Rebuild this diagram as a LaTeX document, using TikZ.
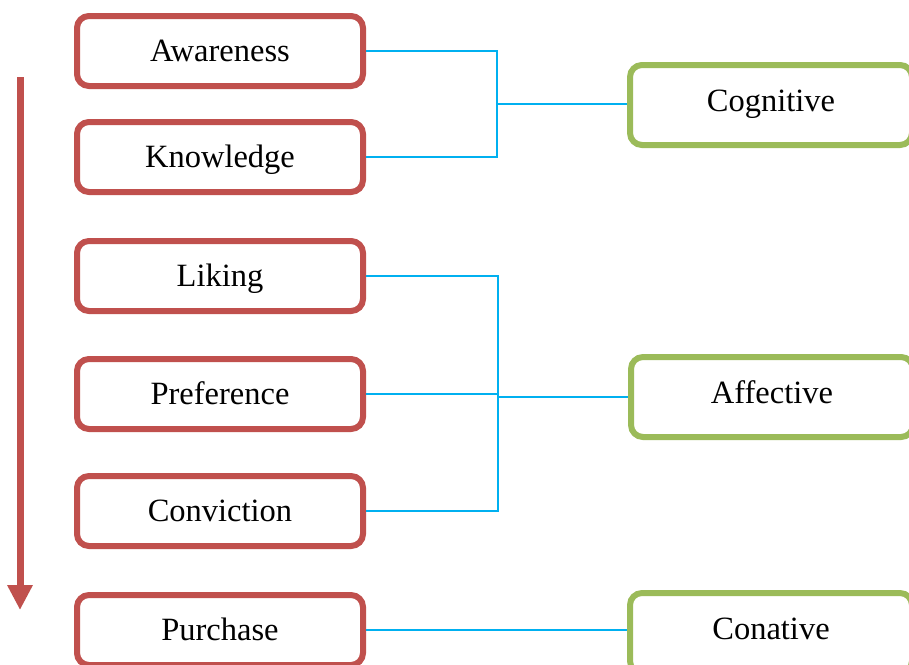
\documentclass[tikz,border=0pt]{standalone}
\usepackage{fontspec}
\setmainfont{Liberation Serif}
\usetikzlibrary{arrows.meta}
\definecolor{stagered}{HTML}{C0504D}
\definecolor{groupgreen}{HTML}{9BBB59}
\definecolor{linkblue}{HTML}{00B0F0}
\tikzset{
  stagebox/.style={draw=stagered, line width=6pt, rounded corners=12pt, fill=white,
    minimum width=286pt, minimum height=70pt, inner sep=0pt,
    text height=22pt, text depth=2pt,
    font=\fontsize{32.5}{38}\selectfont},
  groupbox/.style={draw=groupgreen, line width=6pt, rounded corners=12pt, fill=white,
    minimum width=282pt, minimum height=80pt, inner sep=0pt,
    text height=22pt, text depth=10pt,
    font=\fontsize{32.5}{38}\selectfont},
  link/.style={draw=linkblue, line width=2pt},
  flow/.style={draw=stagered, line width=7pt, -{Triangle[width=24pt,length=25pt]}}
}
\begin{document}
\begin{tikzpicture}[x=1pt,y=-1pt]
  \useasboundingbox (0,0) rectangle (909,664);
  \clip (0,0) rectangle (909,664);
  \fill[white] (0,0) rectangle (909,664);

  % hierarchy stages
  \node[stagebox] (aw) at (220,51) {Awareness};
  \node[stagebox] (kn) at (220,157) {Knowledge};
  \node[stagebox] (li) at (220,276) {Liking};
  \node[stagebox] (pr) at (220,394) {Preference};
  \node[stagebox] (co) at (220,511) {Conviction};
  \node[stagebox] (pu) at (220,630) {Purchase};

  % response groups
  \node[groupbox] (cog) at (771,105) {Cognitive};
  \node[groupbox] (aff) at (772,397) {Affective};
  \node[groupbox] (con) at (771,633) {Conative};

  % junction points of the brackets
  \coordinate (j1) at (497,104);
  \coordinate (j2) at (498,397);

  \draw[link] (aw.east) -| (j1);
  \draw[link] (kn.east) -| (j1);
  \draw[link] (j1) -- (j1 -| cog.west);

  \draw[link] (li.east) -| (j2);
  \draw[link] (co.east) -| (j2);
  \draw[link] (pr.east) -- (pr.east -| j2);
  \draw[link] (j2) -- (aff.west);

  \draw[link] (pu.east) -- (pu.east -| con.west);

  % downward sequence arrow
  \coordinate (top) at (20,77);
  \coordinate (bottom) at (20,610);
  \draw[flow] (top) -- (bottom);
\end{tikzpicture}
\end{document}
